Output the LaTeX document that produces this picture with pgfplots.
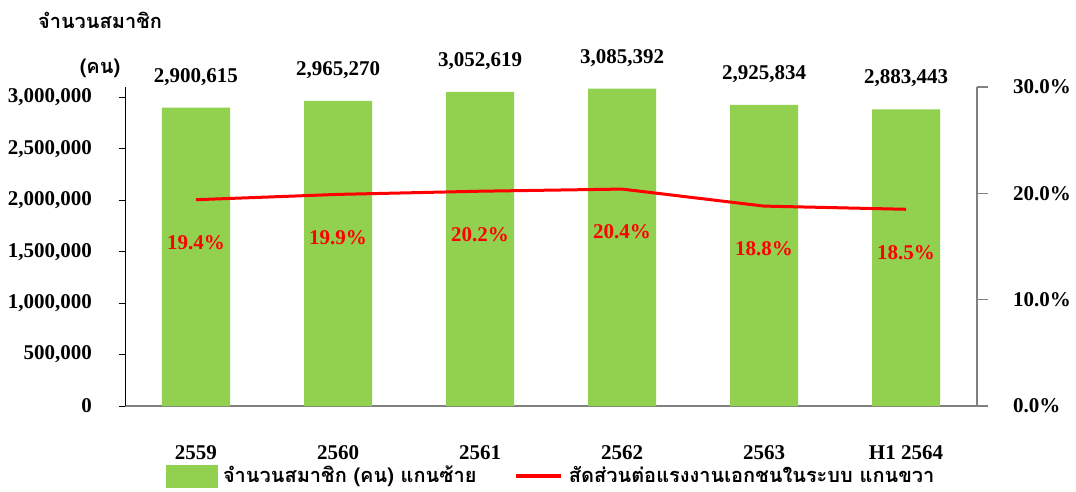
\documentclass[border=0pt]{standalone}
\usepackage{pgfplots}
\pgfplotsset{compat=1.18}
\usepackage{fontspec}
\setmainfont{Liberation Serif}
\newfontfamily\thaifont[Script=Thai]{Loma}
\definecolor{bargreen}{RGB}{146,208,80}
\definecolor{axisgray}{RGB}{128,128,128}

\begin{document}
\fontsize{21}{25}\selectfont\bfseries
\begin{tikzpicture}
\useasboundingbox (-125pt,-85pt) rectangle (951pt,406pt);
\pgfplotsset{
  /pgf/number format/assume math mode=true,
  every axis/.append style={
    scale only axis, width=852pt, height=319pt,
    xmin=-0.5, xmax=5.5,
    font=\fontsize{21}{25}\selectfont\bfseries,
  },
}
% bars, left axis
\begin{axis}[
  ymin=0, ymax=3100000,
  axis x line*=bottom, axis y line*=left,
  x axis line style={axisgray, line width=1.2pt, -},
  y axis line style={black, line width=0.8pt, -},
  xtick={0,1,2,3,4,5},
  xticklabels={2559,2560,2561,2562,2563,H1 2564},
  major x tick style={draw=none},
  xticklabel style={yshift=-26pt},
  extra x ticks={-0.5,0.5,1.5,2.5,3.5,4.5,5.5},
  extra x tick labels={},
  extra x tick style={tick align=outside, major tick length=9pt,
    tick style={black, line width=0.8pt}},
  ytick={0,500000,1000000,1500000,2000000,2500000,3000000},
  scaled y ticks=false,
  yticklabel style={xshift=-20pt, /pgf/number format/fixed,
    /pgf/number format/precision=0, /pgf/number format/1000 sep={,}},
  ytick style={black, line width=0.8pt},
  tick align=outside, major tick length=6pt,
  nodes near coords={\pgfmathprintnumber[fixed,precision=0,1000 sep={,}]{\pgfplotspointmeta}},
  every node near coord/.append style={anchor=south, yshift=15pt, black},
  point meta=explicit,
]
\addplot[ybar, bar width=68pt, fill=bargreen, draw=none] coordinates {
  (0,2900615) [2900615]
  (1,2965270) [2965270]
  (2,3052619) [3052619]
  (3,3085392) [3085392]
  (4,2925834) [2925834]
  (5,2883443) [2883443]
};
\end{axis}
% line, right axis
\begin{axis}[
  ymin=0, ymax=30,
  axis x line=none, axis y line*=right,
  y axis line style={axisgray, line width=1.2pt, -},
  ytick={0,10,20,30},
  ytick style={axisgray, line width=1.2pt},
  tick align=outside, major tick length=11pt,
  yticklabel={\pgfmathprintnumber[fixed,fixed zerofill,precision=1]{\tick}\%},
  yticklabel style={xshift=18pt},
  legend style={at={(0.5,0)}, anchor=center, yshift=-70pt, draw=none,
    fill=none, legend columns=2, inner sep=0pt,
    /tikz/every odd column/.append style={column sep=4pt},
    /tikz/every even column/.append style={column sep=36pt},
    font=\thaifont\fontsize{20}{23}\selectfont\bfseries},
]
\addlegendimage{legend image code/.code={
  \fill[bargreen] (0pt,-11pt) rectangle (51pt,11pt);}}
\addlegendentry{จำนวนสมาชิก (คน) แกนซ้าย}
\addplot[red, line width=3pt, mark=none,
  nodes near coords={\pgfmathprintnumber[fixed,fixed zerofill,precision=1]{\pgfplotspointmeta}\%},
  every node near coord/.append style={anchor=center, yshift=-43pt, red},
  point meta=explicit,
  legend image code/.code={\draw[red, line width=3.5pt] (0pt,0pt) -- (45pt,0pt);},
] coordinates {
  (0,19.4) [19.4]
  (1,19.9) [19.9]
  (2,20.2) [20.2]
  (3,20.4) [20.4]
  (4,18.8) [18.8]
  (5,18.5) [18.5]
};
\addlegendentry{สัดส่วนต่อแรงงานเอกชนในระบบ แกนขวา}
\end{axis}
\node[font=\thaifont\fontsize{20}{24}\selectfont\bfseries] at (-25pt,386pt) {จำนวนสมาชิก};
\node[font=\thaifont\fontsize{20}{24}\selectfont\bfseries] at (-25pt,338pt) {(คน)};
\end{tikzpicture}
\end{document}
